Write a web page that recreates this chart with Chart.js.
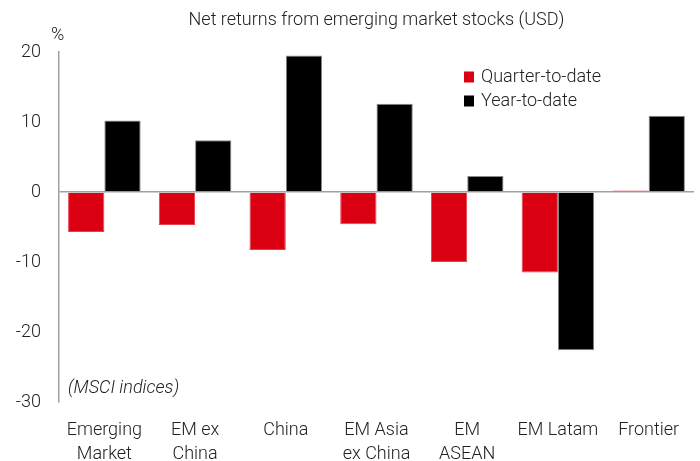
<!DOCTYPE html>
<html>
<head>
<meta charset="utf-8">
<script src="https://cdn.jsdelivr.net/npm/chart.js@4"></script>
<style>
  html, body { margin: 0; padding: 0; background: #fff; }
  #wrap { width: 700px; height: 461px; }
</style>
</head>
<body>
<div id="wrap"><canvas id="returnsChart" width="700" height="461"></canvas></div>
<script>
// Data
const categories = [
    ['Emerging', 'Market'],
    ['EM ex', 'China'],
    'China',
    ['EM Asia', 'ex China'],
    ['EM', 'ASEAN'],
    'EM Latam',
    'Frontier'
];
const seriesNames = ['Quarter-to-date', 'Year-to-date'];
const qtdValues = [-5.7, -4.7, -8.3, -4.6, -10.0, -11.5, 0.2];
const ytdValues = [10.2, 7.4, 19.5, 12.6, 2.3, -22.6, 10.9];

const FONT = 'Roboto, "Liberation Sans", sans-serif';
const COLORS = {
    red: '#DB0011',
    black: '#000000',
    axis: '#a0a0a0',
    text: '#222222'
};

// Title, unit label, note and legend drawn on the canvas
const annotations = {
    id: 'annotations',
    afterDraw(chart) {
        const ctx = chart.ctx;
        const area = chart.chartArea;
        ctx.save();
        ctx.fillStyle = COLORS.text;
        ctx.textBaseline = 'middle';

        ctx.font = '300 18px ' + FONT;
        ctx.textAlign = 'center';
        ctx.fillText('Net returns from emerging market stocks (USD)', (area.left + area.right) / 2, 20);

        ctx.textAlign = 'left';
        ctx.fillText('%', 51, 35);

        ctx.font = 'italic 300 18px ' + FONT;
        ctx.fillText('(MSCI indices)', 68, 388);

        // legend
        ctx.font = '300 18px ' + FONT;
        chart.data.datasets.forEach((ds, i) => {
            const y = 77 + i * 24;
            ctx.fillStyle = ds.backgroundColor;
            ctx.fillRect(464, y - 5.5, 10, 11);
            ctx.fillStyle = COLORS.text;
            ctx.fillText(ds.label, 481, y);
        });
        ctx.restore();
    }
};

new Chart(document.getElementById('returnsChart'), {
    type: 'bar',
    data: {
        labels: categories,
        datasets: [{
            label: seriesNames[0],
            data: qtdValues,
            backgroundColor: COLORS.red,
            borderColor: '#e6404e',
            borderWidth: 1
        }, {
            label: seriesNames[1],
            data: ytdValues,
            backgroundColor: COLORS.black,
            borderColor: '#8a8a8a',
            borderWidth: 1
        }]
    },
    options: {
        responsive: false,
        animation: false,
        layout: {
            padding: { top: 52, right: 6, bottom: 0, left: 0 }
        },
        datasets: {
            bar: {
                categoryPercentage: 0.8,
                barPercentage: 1.0
            }
        },
        scales: {
            x: {
                grid: { display: false, drawTicks: false },
                border: { display: false },
                ticks: {
                    color: COLORS.text,
                    padding: 17,
                    maxRotation: 0,
                    autoSkip: false,
                    font: { family: FONT, size: 18, weight: 300, lineHeight: 1.3 }
                },
                afterFit(scale) { scale.height = 59; }
            },
            y: {
                min: -30,
                max: 20,
                ticks: {
                    stepSize: 10,
                    color: COLORS.text,
                    padding: 18,
                    font: { family: FONT, size: 18, weight: 300 }
                },
                grid: {
                    drawTicks: false,
                    lineWidth: 1.5,
                    color: (c) => (c.tick && c.tick.value === 0 ? COLORS.axis : 'transparent')
                },
                border: { display: true, color: COLORS.axis, width: 1.5 },
                afterFit(scale) { scale.width = 59; }
            }
        },
        plugins: {
            legend: { display: false },
            title: { display: false },
            tooltip: { enabled: false }
        }
    },
    plugins: [annotations]
});
</script>
</body>
</html>
